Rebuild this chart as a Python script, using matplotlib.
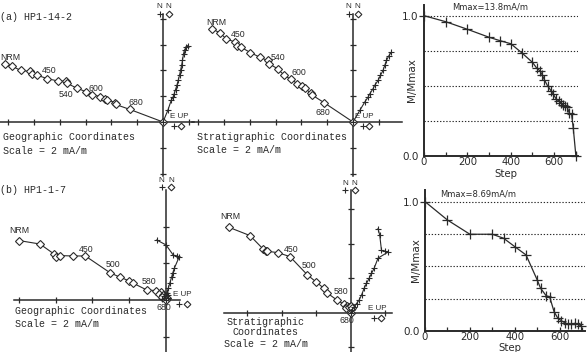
import matplotlib
matplotlib.use("Agg")
import matplotlib.pyplot as plt
from matplotlib.transforms import offset_copy

W, H = 588, 352
INK = "#2a2a2a"

# ---- Zijderveld data (mA/m), NRM first --------------------------------------
# (a) HP1-14-2, geographic: diamonds = horizontal, crosses = vertical
geoA_hx = [-12.26, -11.67, -11.03, -10.31, -10.13, -9.79, -8.97, -8.15, -7.54, -7.44,
           -6.67, -6.0, -5.51, -4.87, -4.49, -4.31, -3.72, -3.67, -2.56, 0.0]
geoA_hy = [4.51, 4.31, 4.0, 3.92, 3.69, 3.64, 3.36, 3.18, 3.15, 3.0,
           2.62, 2.36, 2.13, 1.97, 1.79, 1.72, 1.51, 1.36, 0.97, 0.0]
geoA_vx = [1.92, 1.79, 1.67, 1.59, 1.51, 1.44, 1.36, 1.28, 1.18, 1.08, 0.97, 0.87, 0.77, 0.64, 0.38, 0.0]
geoA_vy = [5.92, 5.79, 5.59, 5.28, 4.77, 4.38, 4.0, 3.62, 3.23, 2.85, 2.51, 2.2, 1.9, 1.69, 0.92, 0.0]

# (a) stratigraphic
strA_hx = [-10.9, -10.33, -9.82, -9.18, -8.97, -8.67, -7.95, -7.18, -6.62, -6.49,
           -5.85, -5.33, -4.82, -4.31, -3.92, -3.74, -3.28, -3.15, -2.26, 0.0]
strA_hy = [7.2, 6.92, 6.44, 6.21, 5.92, 5.79, 5.38, 5.0, 4.77, 4.51,
           4.13, 3.62, 3.31, 2.97, 2.77, 2.67, 2.21, 2.08, 1.51, 0.0]
strA_vx = [2.97, 2.79, 2.59, 2.46, 2.33, 2.13, 1.95, 1.69, 1.56, 1.31, 1.18, 0.92, 0.54, 0.0]
strA_vy = [5.41, 5.15, 4.77, 4.38, 4.0, 3.62, 3.23, 2.85, 2.59, 2.2, 1.95, 1.56, 0.92, 0.0]

# (b) HP1-1-7, geographic
geoB_hx = [-8.0, -6.85, -6.09, -5.98, -5.76, -5.07, -4.38, -3.04, -2.49, -1.98, -1.76,
           -1.04, -0.53, -0.27, -0.35, -0.13, -0.2, 0.05, 0.0]
geoB_hy = [3.24, 3.05, 2.51, 2.33, 2.42, 2.4, 2.4, 1.49, 1.24, 1.04, 0.91,
           0.55, 0.51, 0.45, 0.3, 0.27, 0.15, 0.12, 0.0]
geoB_vx = [-0.49, 0.02, 0.41, 0.6, 0.74, 0.47, 0.38, 0.33, 0.23, 0.14, 0.05, -0.1, 0.15, -0.2, 0.1, 0.0]
geoB_vy = [3.27, 3.0, 2.45, 2.4, 2.36, 1.73, 1.46, 1.27, 0.94, 0.64, 0.37, 0.2, 0.25, 0.05, 0.1, 0.0]

# (b) stratigraphic
strB_hx = [-7.06, -5.84, -5.07, -4.94, -4.84, -4.22, -3.52, -2.51, -2.03, -1.55, -1.39,
           -0.81, -0.39, -0.19, -0.29, -0.1, 0.0, 0.1, 0.0]
strB_hy = [4.95, 4.47, 3.68, 3.6, 3.56, 3.48, 3.25, 2.19, 1.8, 1.41, 1.16,
           0.74, 0.48, 0.39, 0.25, 0.31, 0.35, 0.29, 0.0]
strB_vx = [1.6, 1.7, 1.8, 1.99, 2.19, 1.6, 1.37, 1.22, 1.08, 0.93, 0.79, 0.64, 0.5, 0.35, 0.2, 0.1, 0.0]
strB_vy = [4.88, 4.49, 3.62, 3.56, 3.52, 3.16, 2.56, 2.27, 1.98, 1.69, 1.4, 1.01, 0.72, 0.52, 0.3, 0.15, 0.0]

# step labels: (text, point index, offset in pixels)
geoA_lab = [("NRM", 0, (5, 6)), ("450", 6, (2, 8)), ("540", 9, (-1, -11)), ("600", 12, (4, 6)), ("680", 18, (6, 7))]
strA_lab = [("NRM", 0, (4, 7)), ("450", 3, (4, 7)), ("540", 8, (10, 3)), ("600", 12, (8, 7)), ("680", 18, (-1, -10))]
geoB_lab = [("NRM", 0, (0, 10)), ("450", 6, (1, 6)), ("500", 7, (3, 8)), ("580", 11, (2, 8)), ("680", 18, (-2, -7))]
strB_lab = [("NRM", 0, (1, 11)), ("450", 6, (1, 7)), ("500", 7, (2, 9)), ("580", 11, (4, 8)), ("680", 18, (-4, -8))]

# ---- demagnetisation curves -------------------------------------------------
demA_step = [0, 100, 200, 300, 350, 400, 450, 500, 520, 535, 545, 555, 570, 585, 595,
             610, 620, 630, 640, 650, 660, 670, 680, 688, 700]
demA_m = [1.0, 0.957, 0.903, 0.846, 0.822, 0.800, 0.736, 0.667, 0.625, 0.606, 0.577, 0.542, 0.499,
          0.466, 0.442, 0.404, 0.394, 0.380, 0.363, 0.356, 0.347, 0.304, 0.300, 0.197, 0.0]
demB_step = [0, 100, 200, 300, 350, 400, 450, 500, 515, 540, 555, 575, 592, 607, 622,
             637, 652, 667, 681, 696]
demB_m = [1.0, 0.858, 0.748, 0.748, 0.717, 0.652, 0.588, 0.394, 0.33, 0.272, 0.265, 0.149,
          0.098, 0.08, 0.064, 0.054, 0.052, 0.059, 0.052, 0.039]
step_ticks = list(range(0, 701, 100))
step_labels = ["0", "", "200", "", "400", "", "600", ""]

MONO = "Liberation Mono"
SANS = "Liberation Sans"

fig = plt.figure(figsize=(W / 100, H / 100), dpi=100)
fig.patch.set_facecolor("white")


def px_rect(x0, y0, x1, y1):
    return [x0 / W, 1 - y1 / H, (x1 - x0) / W, (y1 - y0) / H]


def ftext(x, y, s, **kw):
    fig.text(x / W, 1 - y / H, s, family=MONO, fontsize=7.2, color=INK, va="center", **kw)


def legend_glyphs(ax, anchor, left_dx, right_dx, dy):
    # "+" and open diamond drawn beside an axis end, offset in pixels
    for mk, dx in (("+", left_dx), ("D", right_dx)):
        tr = offset_copy(ax.transData, fig=fig, x=dx, y=dy, units="dots")
        ax.plot([anchor[0]], [anchor[1]], marker=mk, ms=4.2 if mk == "+" else 3.4,
                mfc="white", mec=INK, mew=0.8, ls="none", transform=tr, clip_on=False)


def zijder(box, origin, ppu, hx, hy, vx, vy, labels, n_off, e_off):
    x0, y0, x1, y1 = box
    ox, oy = origin
    ax = fig.add_axes(px_rect(x0, y0, x1, y1))
    ax.set_xlim((x0 - ox) / ppu, (x1 - ox) / ppu)
    ax.set_ylim((oy - y1) / ppu, (oy - y0) / ppu)
    ax.patch.set_visible(False)
    for s in ["top", "right"]:
        ax.spines[s].set_visible(False)
    for s in ["left", "bottom"]:
        ax.spines[s].set_position(("data", 0))
        ax.spines[s].set_color(INK)
        ax.spines[s].set_linewidth(1.1)
    lo, hi = ax.get_xlim()
    ax.set_xticks([t for t in range(-16, 17, 2) if t != 0 and lo <= t <= hi])
    lo, hi = ax.get_ylim()
    ax.set_yticks([t for t in range(-16, 17, 2) if t != 0 and lo <= t <= hi])
    ax.tick_params(direction="inout", length=5, width=0.9, color=INK,
                   labelbottom=False, labelleft=False)

    ax.plot(hx, hy, "-", color=INK, lw=0.8, marker="D", ms=3.6, mfc="white",
            mec=INK, mew=0.8, clip_on=False, zorder=3)
    ax.plot(vx, vy, "-", color=INK, lw=0.8, marker="+", ms=5, mew=0.8,
            clip_on=False, zorder=3)
    for txt, i, off in labels:
        ax.annotate(txt, xy=(hx[i], hy[i]), xytext=off, textcoords="offset pixels",
                    ha="center", va="center", fontsize=6.3, family=SANS, color=INK)

    # projection legend at N and E ends
    ytop = ax.get_ylim()[1]
    (nlx, nrx, ny, my) = n_off
    kw = dict(textcoords="offset pixels", ha="center", va="center", color=INK,
              fontsize=5.8, family=SANS)
    ax.annotate("N", xy=(0, ytop), xytext=(nlx, ny), **kw)
    ax.annotate("N", xy=(0, ytop), xytext=(nrx, ny), **kw)
    legend_glyphs(ax, (0, ytop), nlx, nrx, my)
    (ex, ey, plx, dlx, py) = e_off
    ax.annotate("E UP", xy=(0, 0), xytext=(ex, ey), **kw)
    legend_glyphs(ax, (0, 0), plx, dlx, py)
    return ax


def demag(box, xmax, ytop, steps, m, mmax_txt, txt_x, txt_y, ylab_x):
    x0, y0, x1, y1 = box
    ax = fig.add_axes(px_rect(x0, y0, x1, y1))
    ax.set_xlim(0, xmax)
    ax.set_ylim(0, ytop)
    for s in ["top", "right"]:
        ax.spines[s].set_visible(False)
    for s in ["left", "bottom"]:
        ax.spines[s].set_color(INK)
        ax.spines[s].set_linewidth(1.4)
    for v in [0.25, 0.5, 0.75, 1.0]:
        ax.axhline(v, ls=(0, (1.2, 1.6)), lw=0.8, color=INK, zorder=1)
    ax.plot(steps, m, "-", color=INK, lw=0.9, marker="+", ms=6.5, mew=0.9,
            clip_on=False, zorder=3)
    ax.set_xticks(step_ticks)
    ax.set_xticklabels(step_labels)
    ax.set_yticks([0, 1])
    ax.set_yticklabels(["0.0", "1.0"])
    ax.tick_params(axis="x", direction="in", length=3, width=0.9, color=INK, pad=0.5,
                   labelsize=7.3, labelcolor=INK)
    ax.tick_params(axis="y", length=0, pad=4, labelsize=7.5, labelcolor=INK)
    for lab in ax.get_xticklabels() + ax.get_yticklabels():
        lab.set_family("DejaVu Sans")
    ax.text(txt_x, txt_y, mmax_txt, transform=ax.transAxes, ha="center", va="center",
            fontsize=6, color=INK)
    ax.text(ylab_x, 0.5, "M/Mmax", transform=ax.transAxes, rotation=90, ha="center",
            va="center", fontsize=7.5, color=INK)
    ax.text(0.53, -0.12, "Step", transform=ax.transAxes, ha="center", va="center",
            fontsize=7.3, color=INK)
    return ax


# ---- row (a) ---------------------------------------------------------------
zijder((0, 14, 194, 176), (163, 122), 12.9, geoA_hx, geoA_hy, geoA_vx, geoA_vy, geoA_lab,
       (-3.5, 5.5, 7, 0), (16, 5, 11, 18, -4))
zijder((192, 14, 402, 176), (353, 122), 12.9, strA_hx, strA_hy, strA_vx, strA_vy, strA_lab,
       (-4.5, 4.5, 7, 0), (11, 5, 10, 16, -4))
demag((424, 5, 578, 156), 709.7, 1.076, demA_step, demA_m, "Mmax=13.8mA/m", 0.43, 0.985, -0.075)

ftext(0, 17, "(a) HP1-14-2")
ftext(3, 137, "Geographic Coordinates")
ftext(3, 151, "Scale = 2 mA/m")
ftext(197, 137, "Stratigraphic Coordinates")
ftext(197, 150, "Scale = 2 mA/m")

# ---- row (b) ---------------------------------------------------------------
zijder((14, 190, 180, 362), (165.7, 300), 18.35, geoB_hx, geoB_hy, geoB_vx, geoB_vy, geoB_lab,
       (-4, 5.5, 9, 3), (17, 5, 13, 21, -3.5))
zijder((224, 190, 392, 362), (350.5, 312.5), 17.2, strB_hx, strB_hy, strB_vx, strB_vy, strB_lab,
       (-5.5, 4, 6, 0), (27, 4, 23.5, 30, -5))
demag((425, 190, 585, 331), 712.7, 1.09, demB_step, demB_m, "Mmax=8.69mA/m", 0.33, 0.972, -0.056)

ftext(0, 190, "(b) HP1-1-7")
ftext(15, 311, "Geographic Coordinates")
ftext(15, 324, "Scale = 2 mA/m")
ftext(265.5, 322, "Stratigraphic", ha="center")
ftext(265.5, 332, "Coordinates", ha="center")
ftext(265.5, 344, "Scale = 2 mA/m", ha="center")

fig.savefig("out.png", dpi=100)
